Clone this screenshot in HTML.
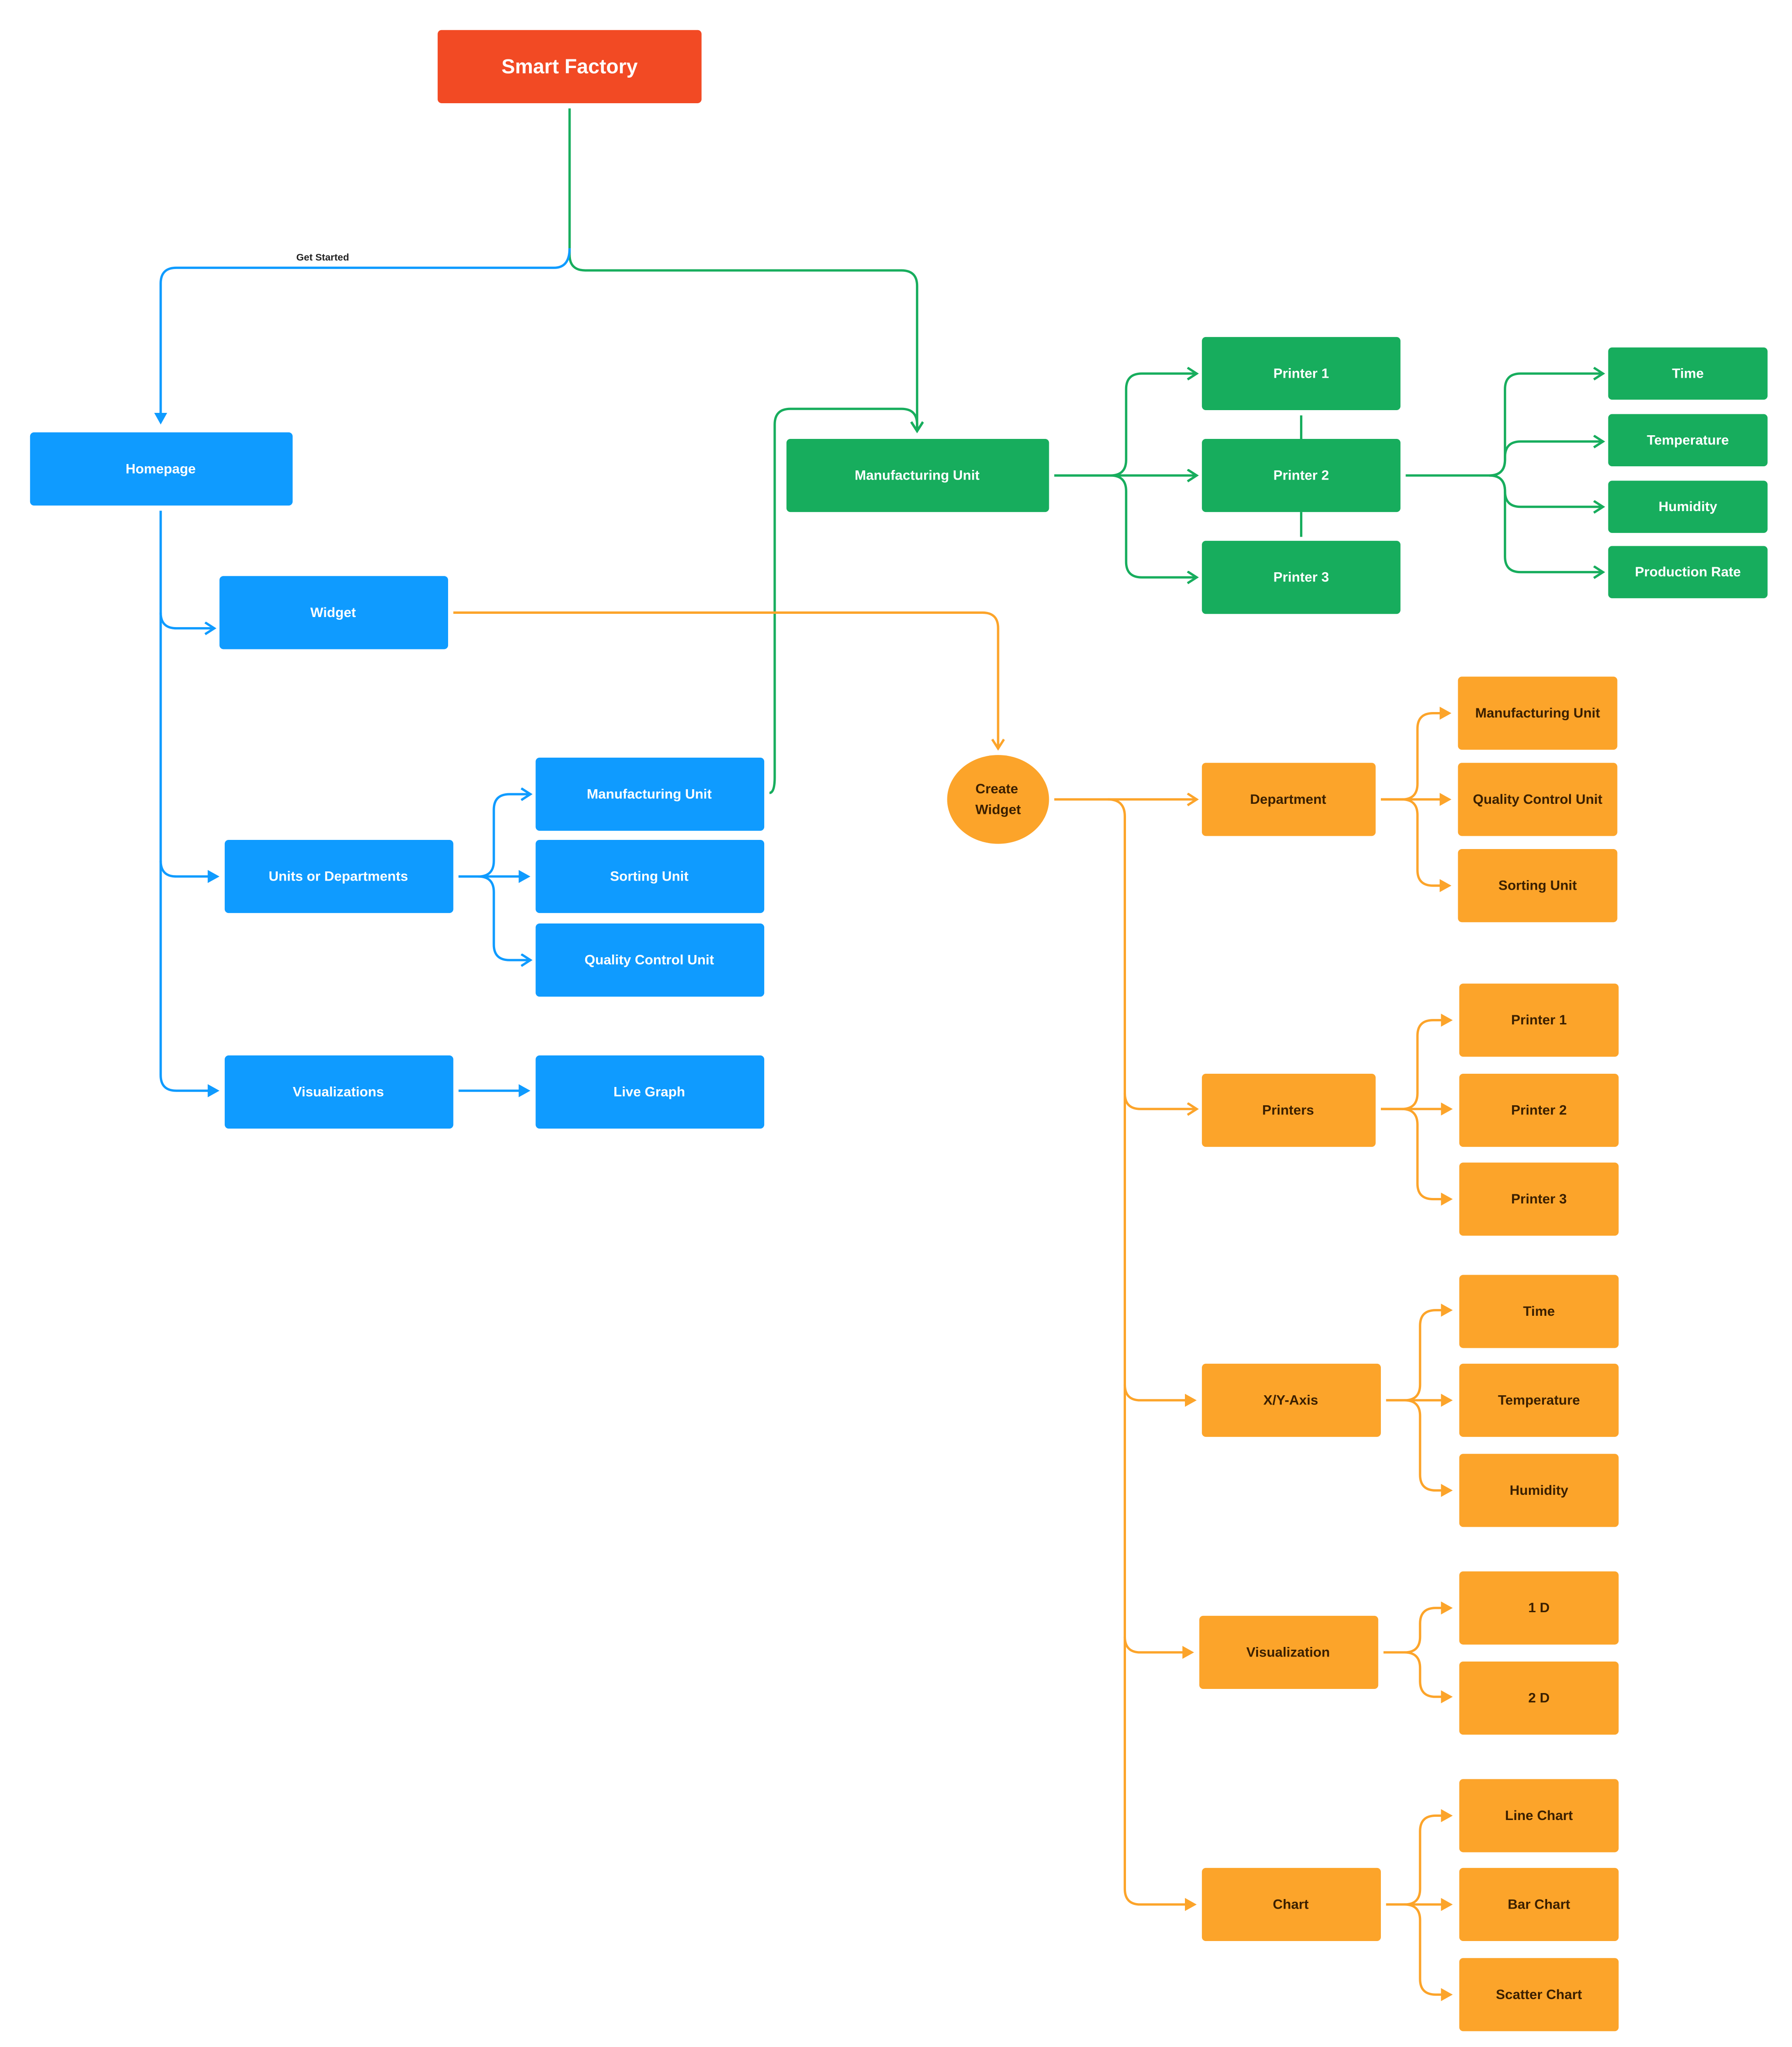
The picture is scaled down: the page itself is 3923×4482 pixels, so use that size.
<!DOCTYPE html>
<html><head><meta charset="utf-8"><style>
html,body{margin:0;padding:0;background:#fff;}
svg{display:block;}
text{font-family:"Liberation Sans",sans-serif;font-weight:bold;text-anchor:middle;dominant-baseline:central;}
.w{fill:#fff;font-size:10.5px;}
.d{fill:#3a1f00;font-size:10.5px;}
.g{stroke:#17AD5D;fill:none;stroke-width:1.8;}
.b{stroke:#0F9BFF;fill:none;stroke-width:1.8;}
.o{stroke:#FCA42A;fill:none;stroke-width:1.8;}
</style></head><body>
<svg width="3923" height="4482" viewBox="0 0 1371.7 1567.1" preserveAspectRatio="none" xmlns="http://www.w3.org/2000/svg">
<defs>
<marker id="cg" markerUnits="userSpaceOnUse" markerWidth="12" markerHeight="12" refX="8" refY="5" orient="auto"><path d="M1,0.5 L8,5 L1,9.5" fill="none" stroke="#17AD5D" stroke-width="1.8"/></marker>
<marker id="cb" markerUnits="userSpaceOnUse" markerWidth="12" markerHeight="12" refX="8" refY="5" orient="auto"><path d="M1,0.5 L8,5 L1,9.5" fill="none" stroke="#0F9BFF" stroke-width="1.8"/></marker>
<marker id="co" markerUnits="userSpaceOnUse" markerWidth="12" markerHeight="12" refX="8" refY="5" orient="auto"><path d="M1,0.5 L8,5 L1,9.5" fill="none" stroke="#FCA42A" stroke-width="1.8"/></marker>
<marker id="fb" markerUnits="userSpaceOnUse" markerWidth="12" markerHeight="12" refX="2" refY="5" orient="auto"><path d="M0,0 L9,5 L0,10 z" fill="#0F9BFF"/></marker>
<marker id="fo" markerUnits="userSpaceOnUse" markerWidth="12" markerHeight="12" refX="2" refY="5" orient="auto"><path d="M0,0 L9,5 L0,10 z" fill="#FCA42A"/></marker>
</defs>

<!-- connectors -->
<path class="g" d="M436,83 V195 Q436,207 448,207 H690 Q702,207 702,219 V330" marker-end="url(#cg)"/>
<path class="b" d="M436,190 Q436,205 424,205 H135 Q123,205 123,217 V318" marker-end="url(#fb)"/>
<text x="247" y="197" style="font-size:7.5px;fill:#222;">Get Started</text>
<path class="g" d="M589,607 Q593,607 593,595 V325 Q593,313 605,313 H690 Q702,313 702,325 V330" marker-end="url(#cg)"/>

<path class="b" d="M123,391 V823 Q123,835 135,835 H161" marker-end="url(#fb)"/>
<path class="b" d="M123,469 Q123,481 135,481 H164" marker-end="url(#cb)"/>
<path class="b" d="M123,659 Q123,671 135,671 H161" marker-end="url(#fb)"/>
<path class="b" d="M351,671 H366 Q378,671 378,659 V620 Q378,608 390,608 H406" marker-end="url(#cb)"/>
<path class="b" d="M351,671 H399" marker-end="url(#fb)"/>
<path class="b" d="M366,671 Q378,671 378,683 V723 Q378,735 390,735 H406" marker-end="url(#cb)"/>
<path class="b" d="M351,835 H399" marker-end="url(#fb)"/>

<path class="g" d="M807,364 H850 Q862,364 862,352 V298 Q862,286 874,286 H916" marker-end="url(#cg)"/>
<path class="g" d="M807,364 H916" marker-end="url(#cg)"/>
<path class="g" d="M850,364 Q862,364 862,376 V430 Q862,442 874,442 H916" marker-end="url(#cg)"/>
<path class="g" d="M996,318 V336 M996,392 V411"/>
<path class="g" d="M1076,364 H1140 Q1152,364 1152,352 V298 Q1152,286 1164,286 H1227" marker-end="url(#cg)"/>
<path class="g" d="M1140,364 Q1152,364 1152,352 V350 Q1152,338 1164,338 H1227" marker-end="url(#cg)"/>
<path class="g" d="M1140,364 Q1152,364 1152,376 Q1152,388 1164,388 H1227" marker-end="url(#cg)"/>
<path class="g" d="M1140,364 Q1152,364 1152,376 V426 Q1152,438 1164,438 H1227" marker-end="url(#cg)"/>

<path class="o" d="M347,469 H752 Q764,469 764,481 V573" marker-end="url(#co)"/>
<path class="o" d="M807,612 H916" marker-end="url(#co)"/>
<path class="o" d="M848,612 Q861,612 861,625 V1446 Q861,1458 873,1458 H909" marker-end="url(#fo)"/>
<path class="o" d="M861,837 Q861,849 873,849 H916" marker-end="url(#co)"/>
<path class="o" d="M861,1060 Q861,1072 873,1072 H909" marker-end="url(#fo)"/>
<path class="o" d="M861,1253 Q861,1265 873,1265 H907" marker-end="url(#fo)"/>

<path class="o" d="M1057,612 H1073 Q1085,612 1085,600 V558 Q1085,546 1097,546 H1104" marker-end="url(#fo)"/>
<path class="o" d="M1057,612 H1104" marker-end="url(#fo)"/>
<path class="o" d="M1073,612 Q1085,612 1085,624 V666 Q1085,678 1097,678 H1104" marker-end="url(#fo)"/>

<path class="o" d="M1057,849 H1073 Q1085,849 1085,837 V793 Q1085,781 1097,781 H1105" marker-end="url(#fo)"/>
<path class="o" d="M1057,849 H1105" marker-end="url(#fo)"/>
<path class="o" d="M1073,849 Q1085,849 1085,861 V906 Q1085,918 1097,918 H1105" marker-end="url(#fo)"/>

<path class="o" d="M1061,1072 H1075 Q1087,1072 1087,1060 V1015 Q1087,1003 1099,1003 H1105" marker-end="url(#fo)"/>
<path class="o" d="M1061,1072 H1105" marker-end="url(#fo)"/>
<path class="o" d="M1075,1072 Q1087,1072 1087,1084 V1129 Q1087,1141 1099,1141 H1105" marker-end="url(#fo)"/>

<path class="o" d="M1059,1265 H1075 Q1087,1265 1087,1253 V1243 Q1087,1231 1099,1231 H1105" marker-end="url(#fo)"/>
<path class="o" d="M1075,1265 Q1087,1265 1087,1277 V1287 Q1087,1299 1099,1299 H1105" marker-end="url(#fo)"/>

<path class="o" d="M1061,1458 H1075 Q1087,1458 1087,1446 V1402 Q1087,1390 1099,1390 H1105" marker-end="url(#fo)"/>
<path class="o" d="M1061,1458 H1105" marker-end="url(#fo)"/>
<path class="o" d="M1075,1458 Q1087,1458 1087,1470 V1515 Q1087,1527 1099,1527 H1105" marker-end="url(#fo)"/>

<!-- nodes -->
<rect x="335" y="23" width="202" height="56" rx="3" fill="#F24A24"/>
<text x="436" y="51" style="fill:#fff;font-size:15.5px;">Smart Factory</text>

<g fill="#0F9BFF">
<rect x="23" y="331" width="201" height="56" rx="3"/>
<rect x="168" y="441" width="175" height="56" rx="3"/>
<rect x="172" y="643" width="175" height="56" rx="3"/>
<rect x="172" y="808" width="175" height="56" rx="3"/>
<rect x="410" y="580" width="175" height="56" rx="3"/>
<rect x="410" y="643" width="175" height="56" rx="3"/>
<rect x="410" y="707" width="175" height="56" rx="3"/>
<rect x="410" y="808" width="175" height="56" rx="3"/>
</g>
<text class="w" x="123" y="359">Homepage</text>
<text class="w" x="255" y="469">Widget</text>
<text class="w" x="259" y="671">Units or Departments</text>
<text class="w" x="259" y="836">Visualizations</text>
<text class="w" x="497" y="608">Manufacturing Unit</text>
<text class="w" x="497" y="671">Sorting Unit</text>
<text class="w" x="497" y="735">Quality Control Unit</text>
<text class="w" x="497" y="836">Live Graph</text>

<g fill="#17AD5D">
<rect x="602" y="336" width="201" height="56" rx="3"/>
<rect x="920" y="258" width="152" height="56" rx="3"/>
<rect x="920" y="336" width="152" height="56" rx="3"/>
<rect x="920" y="414" width="152" height="56" rx="3"/>
<rect x="1231" y="266" width="122" height="40" rx="3"/>
<rect x="1231" y="317" width="122" height="40" rx="3"/>
<rect x="1231" y="368" width="122" height="40" rx="3"/>
<rect x="1231" y="418" width="122" height="40" rx="3"/>
</g>
<text class="w" x="702" y="364">Manufacturing Unit</text>
<text class="w" x="996" y="286">Printer 1</text>
<text class="w" x="996" y="364">Printer 2</text>
<text class="w" x="996" y="442">Printer 3</text>
<text class="w" x="1292" y="286">Time</text>
<text class="w" x="1292" y="337">Temperature</text>
<text class="w" x="1292" y="388">Humidity</text>
<text class="w" x="1292" y="438">Production Rate</text>

<g fill="#FCA42A">
<ellipse cx="764" cy="612" rx="39" ry="34"/>
<rect x="920" y="584" width="133" height="56" rx="3"/>
<rect x="920" y="822" width="133" height="56" rx="3"/>
<rect x="920" y="1044" width="137" height="56" rx="3"/>
<rect x="918" y="1237" width="137" height="56" rx="3"/>
<rect x="920" y="1430" width="137" height="56" rx="3"/>
<rect x="1116" y="518" width="122" height="56" rx="3"/>
<rect x="1116" y="584" width="122" height="56" rx="3"/>
<rect x="1116" y="650" width="122" height="56" rx="3"/>
<rect x="1117" y="753" width="122" height="56" rx="3"/>
<rect x="1117" y="822" width="122" height="56" rx="3"/>
<rect x="1117" y="890" width="122" height="56" rx="3"/>
<rect x="1117" y="976" width="122" height="56" rx="3"/>
<rect x="1117" y="1044" width="122" height="56" rx="3"/>
<rect x="1117" y="1113" width="122" height="56" rx="3"/>
<rect x="1117" y="1203" width="122" height="56" rx="3"/>
<rect x="1117" y="1272" width="122" height="56" rx="3"/>
<rect x="1117" y="1362" width="122" height="56" rx="3"/>
<rect x="1117" y="1430" width="122" height="56" rx="3"/>
<rect x="1117" y="1499" width="122" height="56" rx="3"/>
</g>
<text class="d" x="763" y="604">Create</text>
<text class="d" x="764" y="620">Widget</text>
<text class="d" x="986" y="612">Department</text>
<text class="d" x="986" y="850">Printers</text>
<text class="d" x="988" y="1072">X/Y-Axis</text>
<text class="d" x="986" y="1265">Visualization</text>
<text class="d" x="988" y="1458">Chart</text>
<text class="d" x="1177" y="546">Manufacturing Unit</text>
<text class="d" x="1177" y="612">Quality Control Unit</text>
<text class="d" x="1177" y="678">Sorting Unit</text>
<text class="d" x="1178" y="781">Printer 1</text>
<text class="d" x="1178" y="850">Printer 2</text>
<text class="d" x="1178" y="918">Printer 3</text>
<text class="d" x="1178" y="1004">Time</text>
<text class="d" x="1178" y="1072">Temperature</text>
<text class="d" x="1178" y="1141">Humidity</text>
<text class="d" x="1178" y="1231">1 D</text>
<text class="d" x="1178" y="1300">2 D</text>
<text class="d" x="1178" y="1390">Line Chart</text>
<text class="d" x="1178" y="1458">Bar Chart</text>
<text class="d" x="1178" y="1527">Scatter Chart</text>
</svg>
</body></html>
